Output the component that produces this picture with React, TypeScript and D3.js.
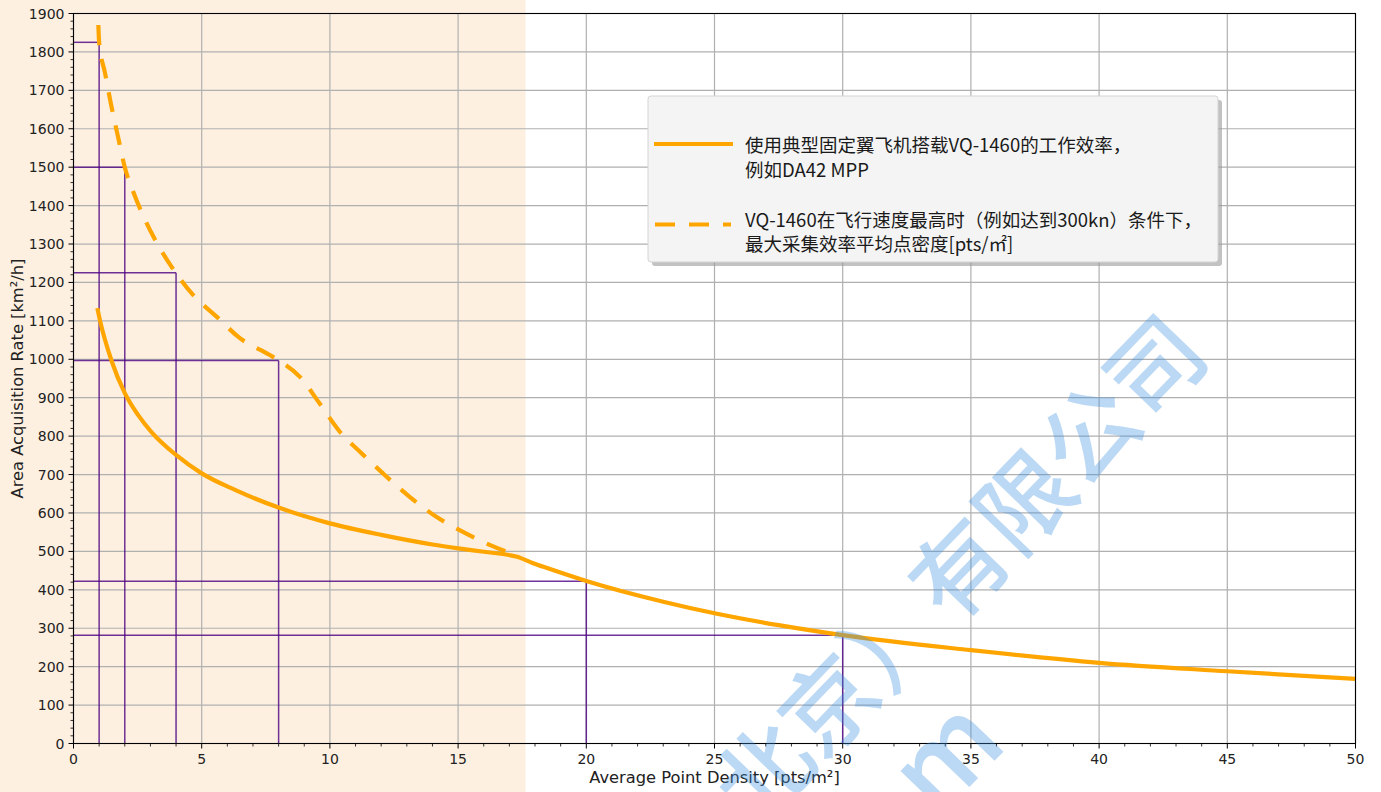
import React from "react";
import * as d3 from "d3";

// ---- data ----
const solidX = [0.93, 1.03, 1.49, 2.0, 2.53, 3.05, 4.0, 5.0, 6.3, 8.0, 10.0, 12.0, 14.0, 15.0, 16.0, 17.3, 17.9, 18.5, 20, 23, 25, 27.5, 30, 35, 40, 45, 50];
const solidY = [1133, 1102, 995, 912, 854, 810, 751, 703, 660, 614, 573, 543, 518, 508, 499, 486, 470, 456, 423, 369, 339, 308, 282, 243, 210, 188, 168];

const dashX = [0.97, 1.0, 1.23, 1.45, 1.75, 2.0, 2.33, 2.79, 3.37, 4.0, 4.67, 5.58, 6.49, 7.66, 8.0, 8.82, 9.6, 10.38, 11.16, 12.07, 13.11, 14.15, 15.19, 16.23, 17.15];
const dashY = [1870, 1825, 1745, 1668, 1575, 1500, 1436, 1363, 1289, 1224, 1167, 1111, 1055, 1011, 997, 955, 885, 812, 760, 703, 642, 590, 551, 517, 493];

// reference guide lines: (density, rate)
const refX = [1, 2, 4, 8, 20, 30];
const refY = [1825, 1500, 1225, 997, 422, 282];

const shadeEnd = 17.63;

const xMajor = [0, 5, 10, 15, 20, 25, 30, 35, 40, 45, 50];
const yMajor = [0, 100, 200, 300, 400, 500, 600, 700, 800, 900, 1000, 1100, 1200, 1300, 1400, 1500, 1600, 1700, 1800, 1900];

const legendLabels = [
  ["使用典型固定翼飞机搭载VQ-1460的工作效率，", "例如DA42 MPP"],
  ["VQ-1460在飞行速度最高时（例如达到300kn）条件下，", "最大采集效率平均点密度[pts/㎡]"],
];

const xLabel = "Average Point Density [pts/m²]";
const yLabel = "Area Acquisition Rate [km²/h]";
const watermark1 = "北京）有限公司";
const watermark2 = "com";

const W = 1381;
const H = 792;
const L = 73.5, R = 1355.5, T = 13.5, B = 743.5;
const legendLineY = [143.5, 168.5, 218.5, 243];

export default function App() {
  const x = d3.scaleLinear().domain([0, 50]).range([L, R]);
  const y = d3.scaleLinear().domain([0, 1900]).range([B, T]);

  const xMinor = d3.range(0, 51, 1).filter((v) => v % 5 !== 0);
  const yMinor = d3.range(0, 1901, 20).filter((v) => v % 100 !== 0);

  const line = d3
    .line<[number, number]>()
    .x((d) => x(d[0]))
    .y((d) => y(d[1]))
    .curve(d3.curveMonotoneX);

  const solidPath = line(solidX.map((v, i) => [v, solidY[i]]) as [number, number][]) || "";
  const dashPath = line(dashX.map((v, i) => [v, dashY[i]]) as [number, number][]) || "";

  const orange = "#FFA500";
  const purple = "#4B0082";
  const gridC = "#b0b0b0";
  const tickFont = "'DejaVu Sans', sans-serif";
  const cjkFont = "'Noto Sans CJK SC', 'Noto Sans', sans-serif";

  return (
    <svg
      width={W}
      height={H}
      style={{ position: "absolute", left: 0, top: 0, background: "#ffffff" }}
    >
      {/* shaded span */}
      <rect x={0} y={0} width={x(shadeEnd)} height={H} fill="#FDF0E1" />

      {/* grid */}
      {xMajor.map((v) => (
        <line key={"gx" + v} x1={x(v)} x2={x(v)} y1={T} y2={B} stroke={gridC} strokeWidth={1.2} />
      ))}
      {yMajor.map((v) => (
        <line key={"gy" + v} x1={L} x2={R} y1={y(v)} y2={y(v)} stroke={gridC} strokeWidth={1.2} />
      ))}

      {/* guide lines */}
      {refX.map((v, i) => (
        <g key={"ref" + i} stroke={purple} strokeOpacity={0.8} strokeWidth={1.5}>
          <line x1={x(v)} x2={x(v)} y1={y(0)} y2={y(refY[i])} />
          <line x1={x(0)} x2={x(v)} y1={y(refY[i])} y2={y(refY[i])} />
        </g>
      ))}

      {/* curves */}
      <path d={solidPath} fill="none" stroke={orange} strokeWidth={4.2} />
      <path d={dashPath} fill="none" stroke={orange} strokeWidth={4.2} strokeDasharray="20,14" />

      {/* frame */}
      <rect x={L} y={T} width={R - L} height={B - T} fill="none" stroke="#000" strokeWidth={1.1} />

      {/* x ticks */}
      {xMajor.map((v) => (
        <g key={"xt" + v}>
          <line x1={x(v)} x2={x(v)} y1={B} y2={B + 5} stroke="#000" strokeWidth={1} />
          <text x={x(v)} y={B + 15} textAnchor="middle" dominantBaseline="central" fontFamily={tickFont} fontSize={14} fill="#222">
            {v}
          </text>
        </g>
      ))}
      {xMinor.map((v) => (
        <line key={"xm" + v} x1={x(v)} x2={x(v)} y1={B} y2={B + 3} stroke="#000" strokeWidth={0.8} />
      ))}

      {/* y ticks */}
      {yMajor.map((v) => (
        <g key={"yt" + v}>
          <line x1={L - 5} x2={L} y1={y(v)} y2={y(v)} stroke="#000" strokeWidth={1} />
          <text x={L - 9} y={y(v)} textAnchor="end" dominantBaseline="central" fontFamily={tickFont} fontSize={14} fill="#222">
            {v}
          </text>
        </g>
      ))}
      {yMinor.map((v) => (
        <line key={"ym" + v} x1={L - 3} x2={L} y1={y(v)} y2={y(v)} stroke="#000" strokeWidth={0.8} />
      ))}

      {/* axis labels */}
      <text x={(L + R) / 2} y={777} textAnchor="middle" dominantBaseline="central" fontFamily={tickFont} fontSize={16.3} fill="#222">
        {xLabel}
      </text>
      <text
        x={17}
        y={(T + B) / 2}
        transform={`rotate(-90, 17, ${(T + B) / 2})`}
        textAnchor="middle"
        dominantBaseline="central"
        fontFamily={tickFont}
        fontSize={16.3}
        fill="#222"
      >
        {yLabel}
      </text>

      {/* legend */}
      <rect x={652} y={100} width={570} height={166} rx={3} fill="#999" fillOpacity={0.6} />
      <rect x={648} y={96} width={570} height={166} rx={3} fill="#f4f4f4" stroke="#d4d4d4" strokeWidth={1} />
      <line x1={654} x2={733} y1={144} y2={144} stroke={orange} strokeWidth={4.2} />
      <line x1={655} x2={731} y1={224.5} y2={224.5} stroke={orange} strokeWidth={4.2} strokeDasharray="20,14" />
      {legendLabels.map((lines, i) =>
        lines.map((t, j) => (
          <text
            key={"lg" + i + j}
            x={745}
            y={legendLineY[i * 2 + j]}
            dominantBaseline="central"
            fontFamily={cjkFont}
            fontSize={18.5}
            fill="#1a1a1a"
          >
            {t}
          </text>
        ))
      )}

      {/* watermark */}
      <g fill="#3d8fe0" fillOpacity={0.35} fontFamily={cjkFont} fontWeight={500}>
        <text
          x={955}
          y={565}
          transform="rotate(-46, 955, 565)"
          textAnchor="middle"
          dominantBaseline="central"
          fontSize={94}
        >
          {watermark1}
        </text>
        <text
          x={975}
          y={712}
          transform="rotate(-46, 975, 712)"
          textAnchor="end"
          dominantBaseline="central"
          fontSize={110}
        >
          {watermark2}
        </text>
      </g>
    </svg>
  );
}
